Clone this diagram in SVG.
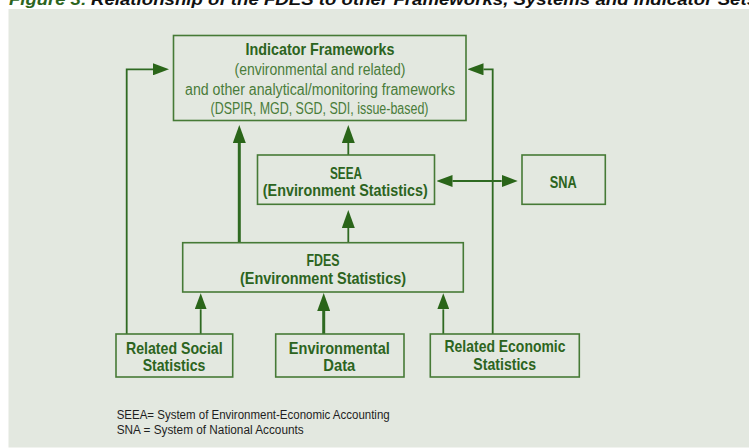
<svg xmlns="http://www.w3.org/2000/svg" width="749" height="448" viewBox="0 0 749 448">
<style>
.box{fill:#e3e8e0;stroke:#467a36;stroke-width:1.6}
.b{font-family:"Liberation Sans Narrow","Liberation Sans",Arial,sans-serif;font-weight:bold;font-size:16.5px;fill:#2c6420;text-anchor:middle}
.r{font-family:"Liberation Sans Narrow","Liberation Sans",Arial,sans-serif;font-size:16px;fill:#4a7c3a;text-anchor:middle}
.fn{font-family:"Liberation Sans Narrow","Liberation Sans",Arial,sans-serif;font-size:12.5px;fill:#1e1e1e}
.ln{fill:none;stroke:#2f6a22;stroke-width:1.8}
.th{fill:none;stroke:#2f6a22;stroke-width:3}
.ttl{font-family:"Liberation Sans Narrow","Liberation Sans",Arial,sans-serif;font-weight:bold;font-style:italic;font-size:16px}
</style>
<defs>
<marker id="ah" viewBox="0 -6 16 12" refX="0" refY="0" markerWidth="16" markerHeight="12" markerUnits="userSpaceOnUse" orient="auto-start-reverse">
<path d="M0,-6 L16,0 L0,6 z" fill="#2a6519"/>
</marker>
<marker id="ahL" viewBox="0 -6.5 18 13" refX="0" refY="0" markerWidth="18" markerHeight="13" markerUnits="userSpaceOnUse" orient="auto-start-reverse">
<path d="M0,-6.5 L18,0 L0,6.5 z" fill="#2a6519"/>
</marker>
</defs>
<rect x="0" y="0" width="749" height="448" fill="#ffffff"/>
<text class="ttl" x="9" y="4.5"><tspan fill="#2c6420" textLength="78" lengthAdjust="spacingAndGlyphs">Figure 3:</tspan><tspan x="91" fill="#111111" textLength="666" lengthAdjust="spacingAndGlyphs">Relationship of the FDES to other Frameworks, Systems and Indicator Sets</tspan></text>
<rect x="8.5" y="9" width="741" height="438.5" fill="#e3e8e0"/>

<g id="connectors">
<path class="ln" d="M126.7,334 V69.3 H153" marker-end="url(#ah)"/>
<path class="ln" d="M492.7,334 V69.3 H483.5" marker-end="url(#ah)"/>
<path class="th" d="M239.3,242.7 V143" marker-end="url(#ahL)"/>
<path class="ln" d="M348.3,155 V143" marker-end="url(#ahL)"/>
<path class="ln" d="M348.3,242.7 V228" marker-end="url(#ahL)"/>
<path class="ln" d="M452.5,181 H501.7" marker-start="url(#ah)" marker-end="url(#ah)"/>
<path class="ln" d="M200.7,334 V309.3" marker-end="url(#ah)"/>
<path class="th" d="M323.7,334 V311" marker-end="url(#ahL)"/>
<path class="ln" d="M443.3,334 V309.3" marker-end="url(#ah)"/>
</g>

<g id="indicator">
<rect class="box" x="173.5" y="35.5" width="292.5" height="85"/>
<text class="b" x="320" y="54.5" textLength="149" lengthAdjust="spacingAndGlyphs">Indicator Frameworks</text>
<text class="r" x="320" y="75" textLength="171" lengthAdjust="spacingAndGlyphs">(environmental and related)</text>
<text class="r" x="320" y="94.5" textLength="270" lengthAdjust="spacingAndGlyphs">and other analytical/monitoring frameworks</text>
<text class="r" x="319.5" y="113.5" textLength="218" lengthAdjust="spacingAndGlyphs">(DSPIR, MGD, SGD, SDI, issue-based)</text>
</g>

<g id="seea">
<rect class="box" x="257.5" y="155" width="177" height="49.3"/>
<text class="b" x="346" y="178.5" textLength="32" lengthAdjust="spacingAndGlyphs">SEEA</text>
<text class="b" x="345.3" y="195.5" textLength="165" lengthAdjust="spacingAndGlyphs">(Environment Statistics)</text>
</g>

<g id="sna">
<rect class="box" x="522" y="155" width="83.3" height="49.3"/>
<text class="b" x="563.3" y="187.5" textLength="27" lengthAdjust="spacingAndGlyphs">SNA</text>
</g>

<g id="fdes">
<rect class="box" x="182.7" y="242.7" width="280.6" height="49.3"/>
<text class="b" x="323" y="265.5" textLength="33" lengthAdjust="spacingAndGlyphs">FDES</text>
<text class="b" x="323" y="283.5" textLength="166" lengthAdjust="spacingAndGlyphs">(Environment Statistics)</text>
</g>

<g id="social">
<rect class="box" x="116" y="334" width="116.7" height="43"/>
<text class="b" x="174.3" y="354" textLength="96.7" lengthAdjust="spacingAndGlyphs">Related Social</text>
<text class="b" x="174" y="371" textLength="62.7" lengthAdjust="spacingAndGlyphs">Statistics</text>
</g>

<g id="envdata">
<rect class="box" x="275.7" y="334" width="128.3" height="43"/>
<text class="b" x="339.3" y="353.5" textLength="101" lengthAdjust="spacingAndGlyphs">Environmental</text>
<text class="b" x="339.3" y="370.5" textLength="32" lengthAdjust="spacingAndGlyphs">Data</text>
</g>

<g id="economic">
<rect class="box" x="430.3" y="334" width="149" height="43"/>
<text class="b" x="505" y="352" textLength="121" lengthAdjust="spacingAndGlyphs">Related Economic</text>
<text class="b" x="504.7" y="369.5" textLength="62.7" lengthAdjust="spacingAndGlyphs">Statistics</text>
</g>

<g id="footnote">
<text class="fn" x="116.7" y="418.5" textLength="273" lengthAdjust="spacingAndGlyphs">SEEA= System of Environment-Economic Accounting</text>
<text class="fn" x="116.7" y="433.5" textLength="187" lengthAdjust="spacingAndGlyphs">SNA = System of National Accounts</text>
</g>
</svg>
